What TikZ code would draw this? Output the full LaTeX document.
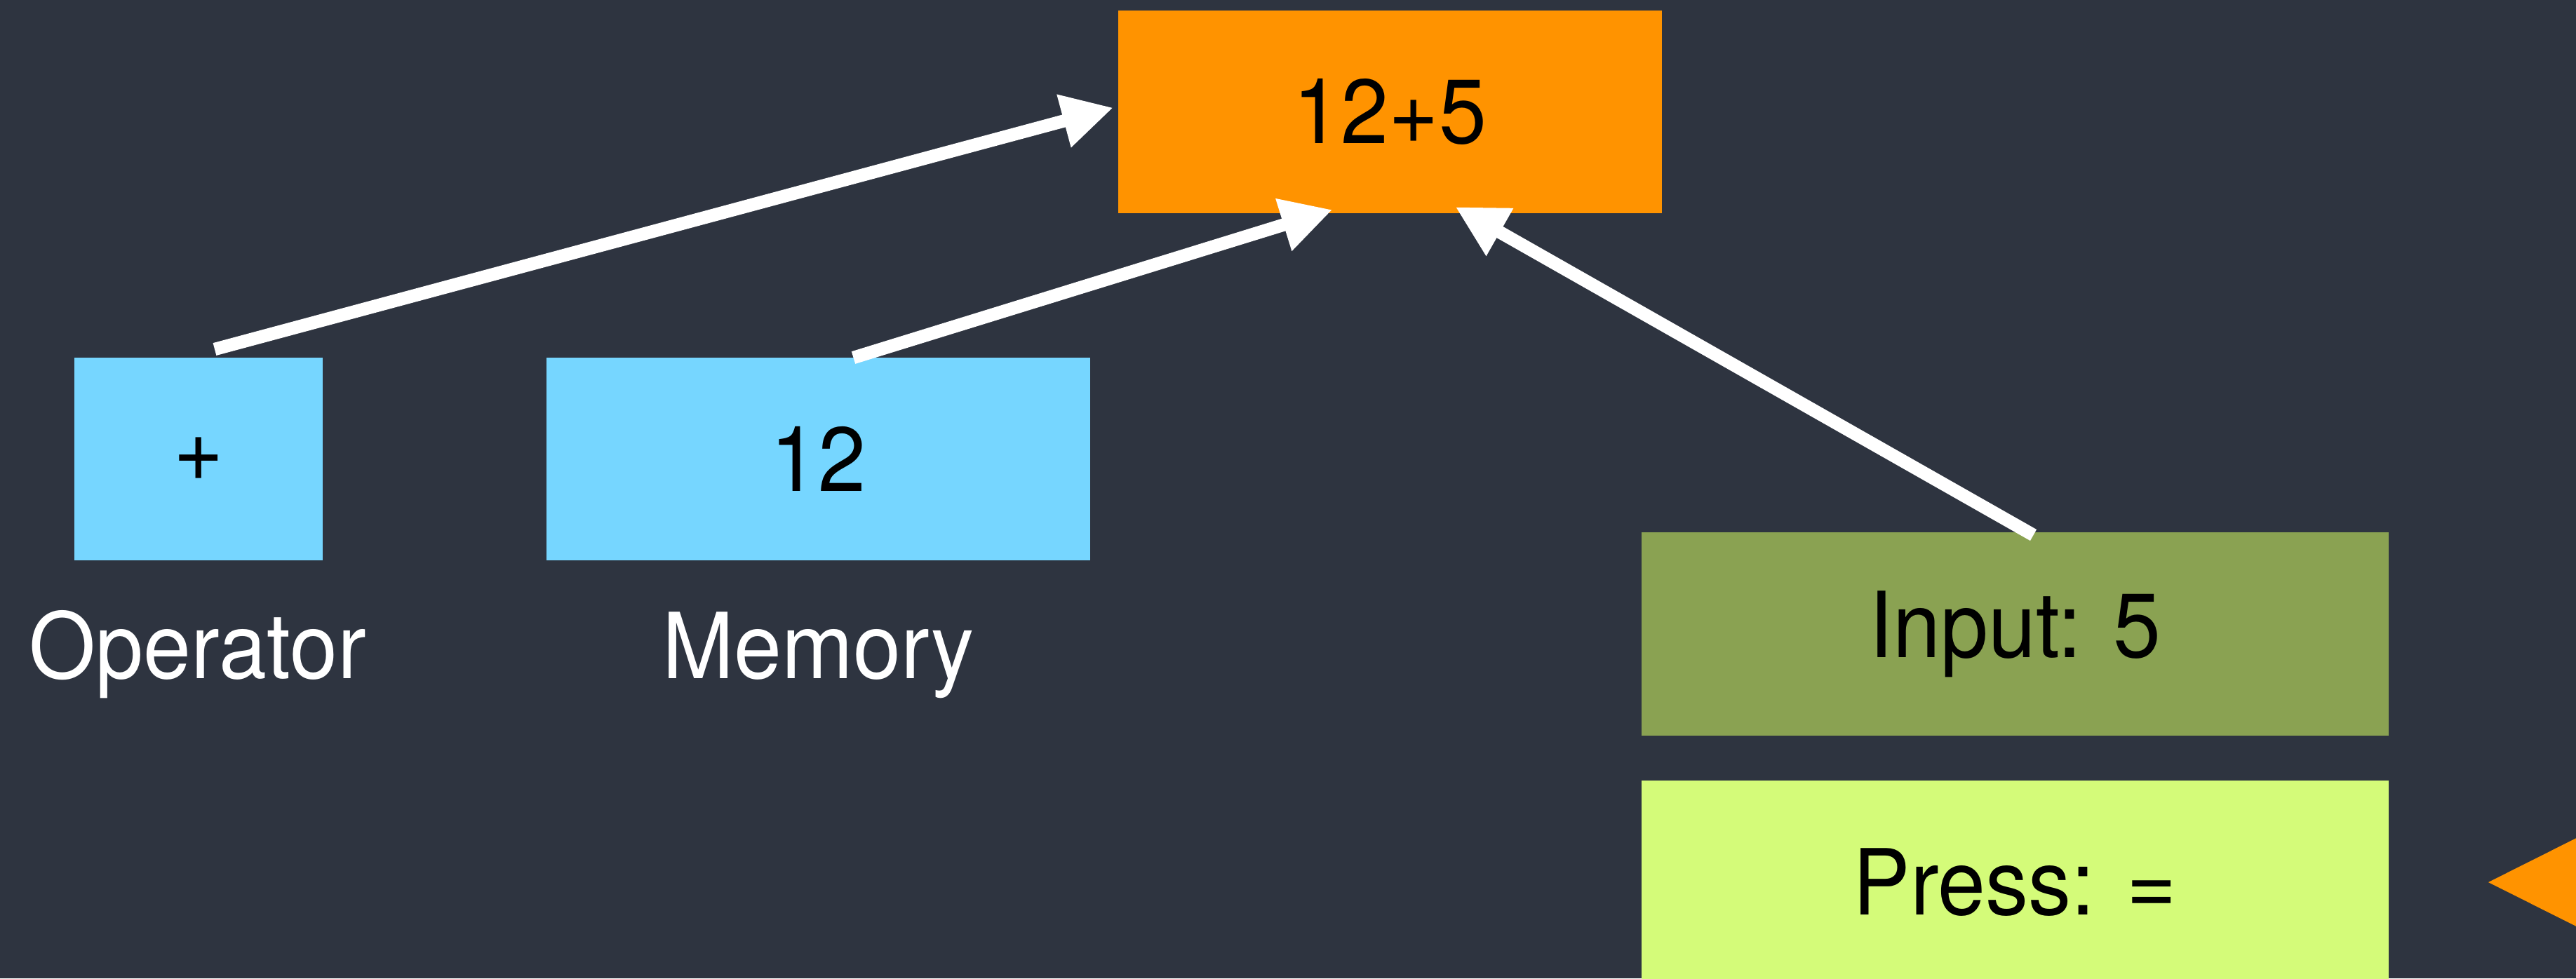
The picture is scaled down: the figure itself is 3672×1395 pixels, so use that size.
\documentclass[tikz,border=0pt]{standalone}
\usepackage{fontspec}
\setmainfont{TeX Gyre Heros}[FakeStretch=0.94]
\usetikzlibrary{arrows.meta,calc}
\definecolor{bg}{HTML}{2E3440}
\definecolor{tangerine}{HTML}{FF9300}
\definecolor{sky}{HTML}{76D6FF}
\definecolor{olive}{HTML}{8AA252}
\definecolor{honeydew}{HTML}{D4FB79}
\tikzset{
  box/.style={rectangle, inner sep=0pt, outer sep=0pt, text=black,
    font=\fontsize{32.5}{39}\selectfont},
  lbl/.style={inner sep=0pt, outer sep=0pt, text=white, anchor=base,
    font=\fontsize{32.5}{39}\selectfont},
  conn/.style={draw=white, line width=4.6pt,
    -{Triangle[length=18.25pt,width=18.25pt]}},
}
\begin{document}
\begin{tikzpicture}[x=0.25pt,y=-0.25pt]
\useasboundingbox (0,0) rectangle (3672,1395);
\fill[bg] (0,0) rectangle (3672,1395);
\begin{scope}
\clip (0,0) rectangle (3672,1395);
% result box
\node[box, fill=tangerine, minimum width=193.75pt, minimum height=72.25pt] (res) at (1981.5,159.5) {12+5};
% operator and memory
\node[box, fill=sky, minimum width=88.5pt, minimum height=72.25pt] (op) at (283,654.5) {+};
\node[box, fill=sky, minimum width=193.75pt, minimum height=72.25pt] (mem) at (1166.5,654.5) {12};
\node[lbl] (oplbl) at (282,967) {Operator};
\node[lbl] (memlbl) at (1167,967) {Memory};
% input and press
\node[box, fill=olive, minimum width=266.25pt, minimum height=72.5pt] (inp) at (2872.5,904) {Input: 5};
\node[box, fill=honeydew, minimum width=266.25pt, minimum height=72.5pt] (press) at (2872.5,1258) {Press: =};
% orange pointer triangle
\fill[tangerine] (3547,1258) -- (3800,1131) -- (3800,1385) -- cycle;
% connectors
\coordinate (a1s) at ($(op.north)+(23,-12)$);
\coordinate (a1e) at ($(res.west)+(-7,-6)$);
\draw[conn] (a1s) -- (a1e);
\coordinate (a2s) at ($(mem.north)+(50,0)$);
\coordinate (a2e) at ($(res.south)+(-82,-5)$);
\draw[conn] (a2s) -- (a2e);
\coordinate (a3s) at ($(inp.north)+(26,4)$);
\coordinate (a3e) at ($(res.south)+(93,-9)$);
\draw[conn] (a3s) -- (a3e);
\end{scope}
\end{tikzpicture}
\end{document}
